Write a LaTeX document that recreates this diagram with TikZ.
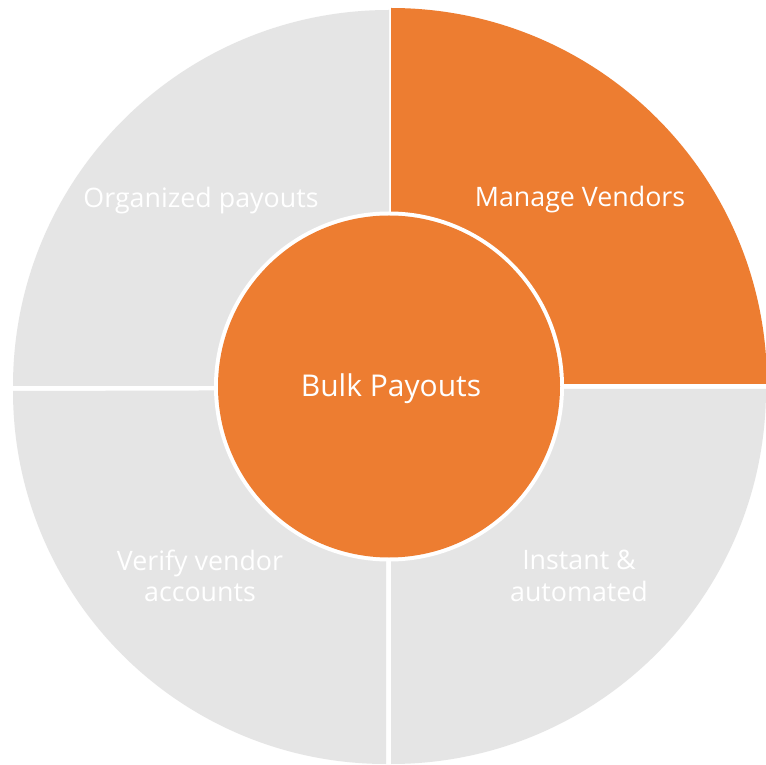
\documentclass[tikz,border=0pt]{standalone}
\usepackage{fontspec}
\setmainfont{Open Sans}
\definecolor{qgray}{HTML}{E5E5E5}
\definecolor{qorange}{HTML}{ED7D31}
\begin{document}
\begin{tikzpicture}[x=1pt,y=1pt,
  lbl/.style={text=white,font=\fontsize{26.8}{31.5}\selectfont,align=center,inner sep=0pt}]
\useasboundingbox (0,0) rectangle (766,764);
\fill[white] (0,0) rectangle (766,764);
% quadrants
\fill[qgray] (389,378) -- ++(180:376) arc[start angle=180,end angle=90,radius=376] -- cycle;
\fill[qorange] (391,380) -- ++(90:376) arc[start angle=90,end angle=0,radius=376] -- cycle;
\fill[qgray] (391,375) -- ++(0:375) arc[start angle=0,end angle=-90,radius=375] -- cycle;
\fill[qgray] (386,374) -- ++(-90:374) arc[start angle=-90,end angle=-180,radius=373] -- cycle;
% centre circle
\fill[white] (389,377.5) circle[radius=175];
\node[circle,fill=qorange,minimum size=342pt,inner sep=0pt] (hub) at (389,377.5) {};
% labels
\node[lbl] (org) at (201,563) {Organized payouts};
\node[lbl] (man) at (580,564) {Manage Vendors};
\node[lbl,font=\fontsize{30}{34}\selectfont] (bulk) at (391,375.5) {Bulk Payouts};
\node[lbl] (ver) at (200,188) {Verify vendor\\accounts};
\node[lbl] (ins) at (579,188) {Instant \&\\automated};
\end{tikzpicture}
\end{document}
